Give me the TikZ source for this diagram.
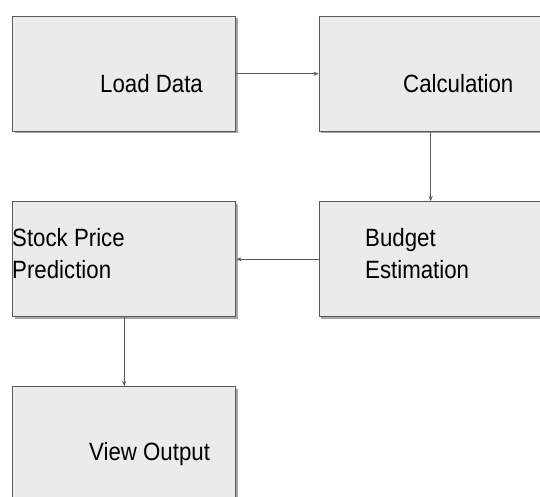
\documentclass[tikz,border=0pt]{standalone}
\usepackage{fontspec}
\setmainfont[FakeStretch=0.89]{Liberation Sans}
\usetikzlibrary{arrows.meta,shadows}
\definecolor{boxfill}{HTML}{EBEBEB}
\definecolor{boxline}{HTML}{5A5A5A}
\begin{document}
\begin{tikzpicture}[x=1pt,y=1pt,
  box/.style={draw=boxline, line width=1.4pt, fill=boxfill, rectangle,
    minimum width=223pt, minimum height=115pt, anchor=north west, inner sep=0pt,
    drop shadow={shadow xshift=2pt, shadow yshift=-2pt, fill=black!35, opacity=1}},
  lbl/.style={anchor=base west, inner sep=0pt, font=\fontsize{25}{32}\selectfont, align=left, text=black},
  conn/.style={draw=boxline, line width=1.1pt, -{Stealth[length=5pt,width=4pt]}}]
\useasboundingbox (0,0) rectangle (540,-496);
\clip (0,0) rectangle (540,-496);
\fill[white] (0,0) rectangle (540,-496);
\node[box] (load) at (12,-15.5) {};
\node[box] (calc) at (318.5,-15.5) {};
\node[box] (stock) at (12,-201) {};
\node[box] (budget) at (318.5,-201) {};
\node[box] (view) at (12,-386) {};
\node[lbl] (tload) at (100,-92) {Load Data};
\node[lbl] (tcalc) at (403,-92) {Calculation};
\node[lbl] (tstock) at (12,-278) {Stock Price\\Prediction};
\node[lbl] (tbudget) at (365,-278) {Budget\\Estimation};
\node[lbl] (tview) at (89,-460) {View Output};
\draw[conn] (load.east) -- (calc.west);
\draw[conn] (calc.south) -- (budget.north);
\draw[conn] (budget.west) -- (stock.east);
\draw[conn] (stock.south) -- (view.north);
\end{tikzpicture}
\end{document}
